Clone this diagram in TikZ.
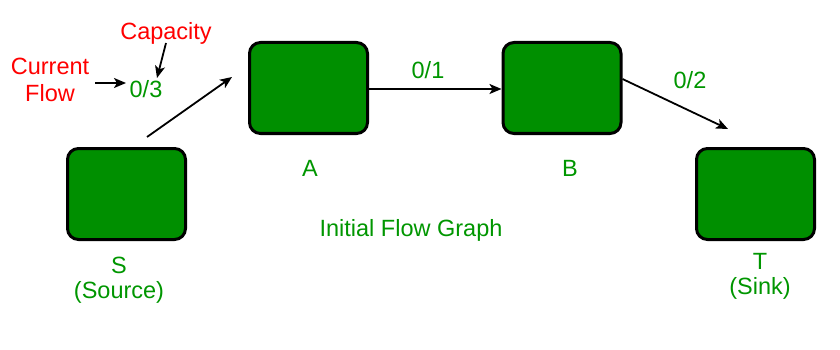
\documentclass[tikz,border=0pt]{standalone}
\usepackage{fontspec}
\setmainfont{Liberation Sans}
\usetikzlibrary{arrows.meta}
\definecolor{boxgreen}{RGB}{0,143,0}
\definecolor{txtgreen}{RGB}{0,150,0}
\definecolor{txtred}{RGB}{255,0,0}
\begin{document}
\begin{tikzpicture}[x=1pt,y=-1pt,
  vbox/.style={draw=black, line width=3pt, fill=boxgreen, rounded corners=11pt,
    minimum width=118pt, minimum height=91pt, inner sep=0pt},
  gtxt/.style={text=txtgreen, font=\fontsize{23.5}{27}\selectfont, inner sep=0pt, align=center},
  rtxt/.style={text=txtred, font=\fontsize{23.5}{27}\selectfont, inner sep=0pt, align=center},
  arr/.style={line width=1.8pt, -{Stealth[length=12pt,width=10pt,inset=3pt]}}]
\useasboundingbox (0,0) rectangle (840,350);
\node[vbox] (S) at (126.5,194) {};
\node[vbox] (A) at (308.5,88) {};
\node[vbox] (B) at (562,88) {};
\node[vbox] (T) at (755.5,194) {};
\node[gtxt] (Sl) at (119,265) {S};
\node[gtxt] (Sl2) at (119,292) {(Source)};
\node[gtxt] (Al) at (310,168) {A};
\node[gtxt] (Bl) at (570,168) {B};
\node[gtxt] (Tl) at (760,261) {T};
\node[gtxt] (Tl2) at (760,288) {(Sink)};
\node[gtxt] (title) at (411,230) {Initial Flow Graph};
\node[gtxt] (f03) at (146,89) {0/3};
\node[gtxt] (f01) at (428,70) {0/1};
\node[gtxt] (f02) at (690,80) {0/2};
\node[rtxt] (cap) at (166,33) {Capacity};
\node[rtxt] (cur) at (50,80) {Current\\Flow};
\coordinate (capS) at (166,43);
\coordinate (capE) at (157,78);
\coordinate (curS) at (95,83);
\coordinate (curE) at (126,83);
\coordinate (saS) at (147,137);
\coordinate (saE) at (232,77);
\coordinate (btE) at (728,129);
\draw[arr] (capS) -- (capE);
\draw[arr] (curS) -- (curE);
\draw[arr] (saS) -- (saE);
\draw[arr] (A.east |- 0,89) -- (B.west |- 0,89);
\draw[arr] (B.east |- 0,79) -- (btE);
\end{tikzpicture}
\end{document}
